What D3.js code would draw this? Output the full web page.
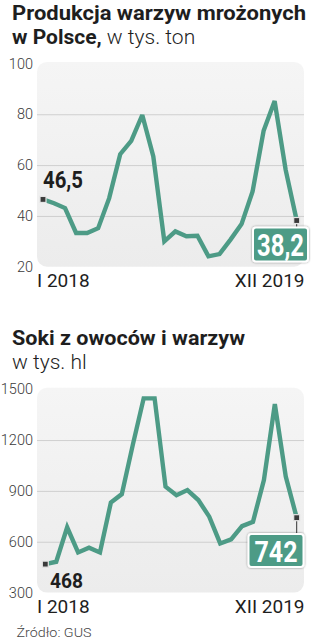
<!DOCTYPE html>
<html>
<head>
<meta charset="utf-8">
<script src="https://cdn.jsdelivr.net/npm/d3@7"></script>
<style>
  html, body { margin: 0; padding: 0; background: #ffffff; }
  svg { display: block; }
  text { font-family: Roboto, "Open Sans", sans-serif; }
</style>
</head>
<body>
<svg id="chart" width="317" height="640"></svg>
<script>
// ---- data ----
const months = ["I 2018","II 2018","III 2018","IV 2018","V 2018","VI 2018","VII 2018","VIII 2018","IX 2018","X 2018","XI 2018","XII 2018",
                "I 2019","II 2019","III 2019","IV 2019","V 2019","VI 2019","VII 2019","VIII 2019","IX 2019","X 2019","XI 2019","XII 2019"];
const frozenVeg = [46.5, 45.0, 43.1, 33.3, 33.3, 35.2, 47.0, 64.3, 69.5, 79.7, 63.4, 30.0,
                   33.9, 32.0, 32.2, 24.1, 25.0, 30.7, 36.8, 49.6, 73.5, 85.2, 58.1, 38.2];
const juices = [468, 482, 685, 537, 565, 537, 832, 881, 1170, 1446, 1446, 925,
                875, 905, 846, 748, 590, 614, 692, 718, 964, 1412, 984, 742];
const frozenTicks = [20, 40, 60, 80, 100];
const juiceTicks = [300, 600, 900, 1200, 1500];
const xTickLabels = ["I 2018", "XII 2019"];
const frozenLabels = ["46,5", "38,2"];
const juiceLabels = ["468", "742"];

const teal = "#4d9b86";
const svg = d3.select("#chart");

const defs = svg.append("defs");
const grad = defs.append("linearGradient").attr("id", "bg").attr("x1", 0).attr("y1", 0).attr("x2", 0).attr("y2", 1);
grad.append("stop").attr("offset", "0%").attr("stop-color", "#f5f5f5");
grad.append("stop").attr("offset", "100%").attr("stop-color", "#ececec");
const sh = defs.append("filter").attr("id", "sh").attr("x", "-20%").attr("y", "-20%").attr("width", "140%").attr("height", "140%");
sh.append("feDropShadow").attr("dx", 0).attr("dy", 0).attr("stdDeviation", 0.8).attr("flood-color", "#000").attr("flood-opacity", 0.45);

// ---- titles ----
svg.append("text").attr("x", 12).attr("y", 19.5)
  .attr("font-size", 21).attr("font-weight", 700).attr("fill", "#1e1e1e")
  .attr("textLength", 294).attr("lengthAdjust", "spacingAndGlyphs")
  .text("Produkcja warzyw mrożonych");
const t2 = svg.append("text").attr("x", 12).attr("y", 43.5).attr("font-size", 21).attr("fill", "#1e1e1e");
t2.append("tspan").attr("font-weight", 700).text("w Polsce,");
t2.append("tspan").attr("font-weight", 300).text(" w tys. ton");

svg.append("text").attr("x", 12).attr("y", 345)
  .attr("font-size", 21).attr("font-weight", 700).attr("fill", "#1e1e1e")
  .attr("textLength", 233).attr("lengthAdjust", "spacingAndGlyphs")
  .text("Soki z owoców i warzyw");
svg.append("text").attr("x", 12).attr("y", 368.5)
  .attr("font-size", 21).attr("font-weight", 300).attr("fill", "#1e1e1e")
  .text("w tys. hl");

const narrow = "'Roboto', sans-serif";

function panel(cfg) {
  const x = d3.scaleLinear().domain([0, cfg.data.length - 1]).range(cfg.xr);
  const y = d3.scaleLinear().domain(cfg.yd).range(cfg.yr);
  const g = svg.append("g");

  // background
  g.append("rect").attr("x", 37).attr("y", y(cfg.yd[1]) - 1.5)
    .attr("width", 267).attr("height", y(cfg.yd[0]) - y(cfg.yd[1]) + 1.5)
    .attr("rx", 10).attr("fill", "url(#bg)");

  // gridlines
  const grid = d3.axisRight(y).tickValues(cfg.ticks.slice(1, -1)).tickSize(267).tickFormat("");
  g.append("g").attr("transform", "translate(37,0)").call(grid)
    .call(s => s.select(".domain").remove())
    .call(s => s.selectAll("line").attr("stroke", "#cfcfcf").attr("stroke-width", 1));

  // y tick labels
  const yAxis = d3.axisLeft(y).tickValues(cfg.ticks).tickSize(0).tickPadding(0).tickFormat(d3.format("d"));
  g.append("g").attr("transform", "translate(33,0)").call(yAxis)
    .call(s => s.select(".domain").remove())
    .call(s => s.selectAll("text").attr("font-size", 14.5).attr("font-weight", 300)
      .attr("fill", "#3a3a3a").attr("font-family", "Roboto, sans-serif"));

  // x labels
  const xAxis = d3.axisBottom(x).tickValues([0, cfg.data.length - 1])
    .tickFormat((d, i) => xTickLabels[i]).tickSize(0).tickPadding(0);
  g.append("g").attr("transform", `translate(0,${cfg.xLabelY})`).call(xAxis)
    .call(s => s.select(".domain").remove())
    .call(s => s.selectAll("text").attr("font-size", 19).attr("font-weight", 400)
      .attr("fill", "#1e1e1e").attr("font-family", "Roboto, sans-serif").attr("dy", 0).attr("y", 0)
      .attr("text-anchor", (d, i) => i === 0 ? "start" : "end")
      .attr("x", (d, i) => i === 0 ? 36.5 - x(0) : 304 - x(cfg.data.length - 1)));

  // line
  const line = d3.line().x((d, i) => x(i)).y(d => y(d));
  g.append("path").datum(cfg.data).attr("d", line).attr("fill", "none")
    .attr("stroke", teal).attr("stroke-width", 4.4).attr("stroke-linejoin", "miter").attr("stroke-miterlimit", 3);

  const n = cfg.data.length - 1;
  // connector to final box
  g.append("line").attr("x1", x(n)).attr("x2", x(n))
    .attr("y1", y(cfg.data[n])).attr("y2", cfg.box.y).attr("stroke", "#333").attr("stroke-width", 1);

  // markers
  [0, n].forEach(i => {
    g.append("rect").attr("x", x(i) - 3).attr("y", y(cfg.data[i]) - 3)
      .attr("width", 6).attr("height", 6).attr("fill", "#3a3a3a")
      .attr("stroke", "#e4e4e4").attr("stroke-width", 1.2);
  });

  // first value label
  g.append("text").attr("x", cfg.first.x).attr("y", cfg.first.y)
    .attr("font-family", narrow)
    .attr("font-weight", 700).attr("font-size", cfg.first.size).attr("fill", "#1e1e1e")
    .attr("textLength", cfg.first.len).attr("lengthAdjust", "spacingAndGlyphs")
    .text(cfg.labels[0]);

  // last value box
  g.append("rect").attr("x", cfg.box.x).attr("y", cfg.box.y).attr("width", cfg.box.w).attr("height", cfg.box.h)
    .attr("rx", 3).attr("fill", teal).attr("stroke", "#ffffff").attr("stroke-width", 2).attr("filter", "url(#sh)");
  g.append("text").attr("x", cfg.box.x + (cfg.box.w - cfg.box.len) / 2).attr("y", cfg.box.y + cfg.box.h - 5.5)
    .attr("font-family", narrow)
    .attr("font-weight", 700).attr("font-size", cfg.box.size).attr("fill", "#ffffff")
    .attr("textLength", cfg.box.len).attr("lengthAdjust", "spacingAndGlyphs")
    .text(cfg.labels[1]);
}

panel({
  data: frozenVeg, ticks: frozenTicks, labels: frozenLabels,
  yd: [20, 100], yr: [266.8, 63.4], xr: [43, 296.7], xLabelY: 286.5,
  first: { x: 43, y: 188, size: 23, len: 40 },
  box: { x: 253, y: 227.5, w: 55, h: 34, size: 31, len: 47 }
});

panel({
  data: juices, ticks: juiceTicks, labels: juiceLabels,
  yd: [300, 1500], yr: [592.6, 389.2], xr: [45.3, 296.7], xLabelY: 613.3,
  first: { x: 50, y: 587.5, size: 21, len: 33 },
  box: { x: 248.5, y: 534, w: 55, h: 33, size: 29, len: 43 }
});

svg.append("text").attr("x", 16.5).attr("y", 636.5)
  .attr("font-size", 13.5).attr("font-weight", 300).attr("fill", "#444")
  .attr("textLength", 75).attr("lengthAdjust", "spacingAndGlyphs")
  .text("Źródło: GUS");
</script>
</body>
</html>
